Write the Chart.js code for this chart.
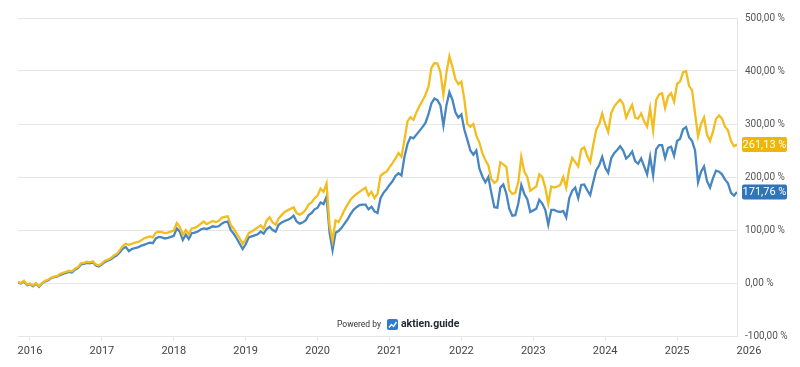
<!DOCTYPE html>
<html>
<head>
<meta charset="utf-8">
<script src="https://cdn.jsdelivr.net/npm/chart.js@4.4.1/dist/chart.umd.min.js"></script>
<style>
  html, body { margin: 0; padding: 0; background: #fff; }
  #wrap { width: 800px; height: 367px; position: relative; }
</style>
</head>
<body>
<div id="wrap"><canvas id="chart"></canvas></div>
<script>
// two readings per month, starting Nov 2015
const startYear = 2015 + 10 / 12;
const pointsPerYear = 24;

const yearTicks = [2016, 2017, 2018, 2019, 2020, 2021, 2022, 2023, 2024, 2025, 2026];
const percentTicks = [-100, 0, 100, 200, 300, 400, 500];

const yellowValues = [
  2, 0, 4, -3, -1, -5, 0, -6, 0, 4,
  6, 10, 12, 13, 17, 19, 21, 23, 22, 27,
  30, 37, 38, 40, 39, 41, 35, 33, 37, 42,
  44, 47, 52, 55, 62, 70, 74, 72, 74, 76,
  77, 80, 84, 86, 88, 86, 95, 97, 96, 94,
  95, 97, 99, 113, 106, 91, 100, 92, 103, 104,
  107, 112, 116, 111, 114, 117, 115, 117, 123, 125,
  126, 110, 102, 93, 84, 74, 82, 94, 97, 101,
  105, 109, 102, 118, 124, 114, 110, 122, 128, 134,
  137, 140, 143, 132, 129, 132, 138, 148, 152, 160,
  165, 178, 172, 188, 108, 80, 118, 115, 126, 138,
  148, 157, 163, 168, 172, 176, 180, 165, 172, 160,
  168, 202, 207, 210, 218, 226, 235, 245, 238, 270,
  305, 313, 308, 322, 334, 344, 355, 370, 406, 415,
  414, 398, 355, 396, 428, 408, 385, 375, 380, 346,
  300, 295, 300, 278, 265, 245, 232, 222, 196, 189,
  193, 228, 224, 219, 175, 168, 170, 190, 238, 210,
  200, 174, 178, 182, 205, 200, 180, 150, 182, 180,
  182, 185, 200, 180, 215, 236, 228, 220, 252, 256,
  240, 228, 260, 289, 300, 320, 300, 285, 320, 333,
  340, 346, 338, 312, 325, 336, 312, 310, 320, 305,
  295, 330, 288, 345, 356, 358, 330, 352, 358, 342,
  376, 380, 398, 400, 372, 364, 320, 277, 300, 312,
  280, 268, 286, 310, 316, 310, 295, 288, 268, 258,
  261.13
];

const blueValues = [
  1, -1, 3, -4, -2, -6, -1, -7, -1, 3,
  5, 9, 11, 12, 15, 17, 19, 21, 20, 25,
  28, 35, 36, 38, 37, 39, 33, 31, 35, 40,
  42, 45, 49, 52, 58, 65, 68, 60, 64, 66,
  67, 70, 72, 74, 76, 75, 84, 87, 86, 84,
  85, 87, 89, 103, 97, 81, 91, 83, 94, 95,
  97, 101, 103, 102, 104, 107, 106, 107, 112, 115,
  116, 100, 93, 84, 74, 64, 73, 86, 88, 90,
  92, 97, 93, 102, 106, 100, 97, 110, 114, 117,
  119, 122, 127, 116, 112, 114, 118, 128, 132, 139,
  142, 152, 149, 163, 95, 62, 95, 98, 104, 112,
  120, 130, 138, 143, 147, 148, 148, 139, 144, 135,
  132, 160, 170, 177, 185, 192, 202, 207, 203, 238,
  262, 275, 273, 280, 287, 294, 302, 318, 339, 348,
  345, 335, 297, 335, 360, 346, 322, 312, 318, 289,
  270, 250, 242, 250, 216, 201, 190, 200, 170, 143,
  142, 180, 186, 169, 140, 127, 128, 150, 185, 168,
  158, 134, 137, 140, 157, 150, 138, 110, 138, 138,
  135, 134, 136, 124, 160, 174, 180, 160, 185, 186,
  175, 166, 190, 213, 222, 238, 218, 208, 235, 245,
  251, 258, 250, 235, 240, 248, 230, 225, 235, 220,
  205, 238, 203, 252, 260, 260, 236, 255, 257, 240,
  268, 272, 290, 294, 275, 268, 250, 190, 210, 220,
  192, 180, 198, 212, 210, 205, 195, 188, 170, 165,
  171.76
];

const yellowLine = '#f2bd1f';
const blueLine = '#4886c1';
const yellowTag = '#f0b50a';
const blueTag = '#2f75b8';
const gridColor = '#e6e6e6';

function toPoints(values) {
  return values.map((v, i) => ({ x: startYear + i / pointsPerYear, y: v }));
}

function fmtPercent(v) {
  return v.toFixed(2).replace('.', ',') + ' %';
}

// coloured boxes with the last value, right of the plot
const lastValueTags = {
  id: 'lastValueTags',
  afterDraw(chart) {
    const ctx = chart.ctx;
    const area = chart.chartArea;
    ctx.save();
    ctx.font = '11px Roboto';
    ctx.textAlign = 'center';
    ctx.textBaseline = 'middle';
    chart.data.datasets.forEach((ds, i) => {
      const meta = chart.getDatasetMeta(i);
      const pt = meta.data[meta.data.length - 1];
      const x = area.right + 5;
      const w = 45, h = 15;
      ctx.fillStyle = ds.tagColor;
      ctx.beginPath();
      ctx.roundRect(x, pt.y - h / 2, w, h, 2);
      ctx.fill();
      ctx.fillStyle = '#fff';
      ctx.fillText(fmtPercent(ds.data[ds.data.length - 1].y), x + w / 2, pt.y + 0.5);
    });
    ctx.restore();
  }
};

// "Powered by aktien.guide" mark
const poweredBy = {
  id: 'poweredBy',
  afterDraw(chart) {
    const ctx = chart.ctx;
    ctx.save();
    ctx.textBaseline = 'middle';
    ctx.textAlign = 'right';
    ctx.fillStyle = '#333';
    ctx.font = '8.5px Roboto';
    ctx.fillText('Powered by', 381, 325);
    // logo
    ctx.fillStyle = '#2b7bd0';
    ctx.beginPath();
    ctx.roundRect(387, 319, 11, 11, 2);
    ctx.fill();
    ctx.strokeStyle = '#fff';
    ctx.lineWidth = 1.4;
    ctx.beginPath();
    ctx.moveTo(389, 327.5);
    ctx.lineTo(391.5, 324.5);
    ctx.lineTo(393.5, 326.5);
    ctx.lineTo(396.5, 322);
    ctx.stroke();
    ctx.textAlign = 'left';
    ctx.fillStyle = '#1e2733';
    ctx.font = 'bold 10.5px Roboto';
    ctx.fillText('aktien.guide', 401, 324.5);
    ctx.restore();
  }
};

new Chart(document.getElementById('chart'), {
  type: 'line',
  data: {
    datasets: [
      {
        label: 'Wert A',
        data: toPoints(yellowValues),
        borderColor: yellowLine,
        tagColor: yellowTag,
        borderWidth: 2.3,
        pointRadius: 0,
        tension: 0
      },
      {
        label: 'Wert B',
        data: toPoints(blueValues),
        borderColor: blueLine,
        tagColor: blueTag,
        borderWidth: 2.3,
        pointRadius: 0,
        tension: 0
      }
    ]
  },
  options: {
    responsive: true,
    maintainAspectRatio: false,
    animation: false,
    layout: { padding: { left: 18, top: 18, right: 0, bottom: 0 } },
    plugins: {
      legend: { display: false },
      tooltip: { enabled: false }
    },
    scales: {
      x: {
        type: 'linear',
        min: startYear,
        max: startYear + (yellowValues.length - 1) / pointsPerYear,
        afterBuildTicks: (scale) => {
          scale.ticks = yearTicks.map(v => ({ value: v }));
        },
        afterFit: (scale) => { scale.height = 31; },
        border: { display: true, color: gridColor },
        grid: {
          drawOnChartArea: false,
          drawTicks: true,
          tickLength: 5,
          color: (c) => (c.tick && c.tick.value > 2025.9 ? 'rgba(0,0,0,0)' : gridColor)
        },
        ticks: {
          autoSkip: false,
          maxRotation: 0,
          padding: 4,
          color: '#444',
          font: { family: 'Roboto', size: 11 },
          callback: (v) => String(v)
        }
      },
      y: {
        position: 'right',
        min: -100,
        max: 500,
        afterBuildTicks: (scale) => {
          scale.ticks = percentTicks.map(v => ({ value: v }));
        },
        afterFit: (scale) => { scale.width = 63; },
        border: { display: true, color: gridColor },
        grid: { color: gridColor, drawTicks: false },
        ticks: {
          padding: 8,
          color: '#555',
          font: { family: 'Roboto', size: 10 },
          callback: (v) => fmtPercent(v)
        }
      }
    }
  },
  plugins: [lastValueTags, poweredBy]
});
</script>
</body>
</html>
